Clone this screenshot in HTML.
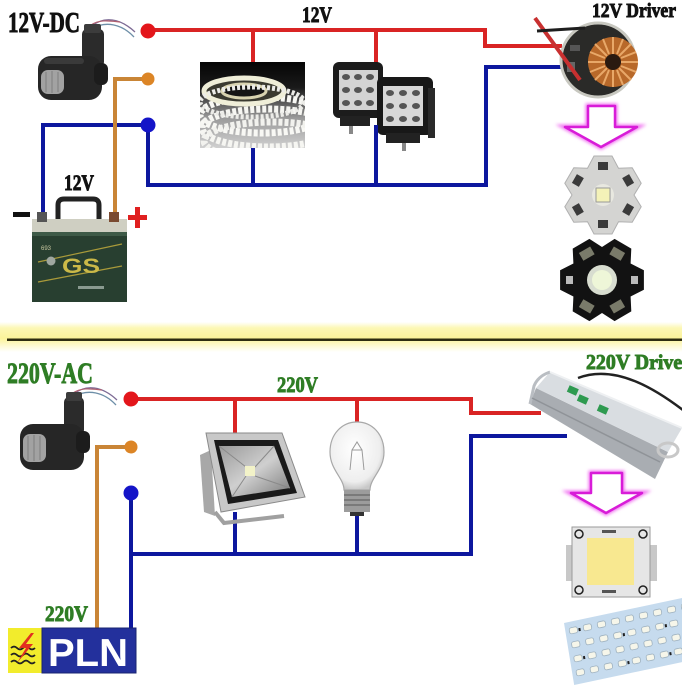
<!DOCTYPE html>
<html><head><meta charset="utf-8"><style>
html,body{margin:0;padding:0;background:#fff;}
svg{display:block;}
.t{font-family:"Liberation Serif",serif;font-weight:bold;stroke-width:0.9;}
.s{font-family:"Liberation Sans",sans-serif;font-weight:bold;}
</style></head><body>
<svg width="688" height="688" viewBox="0 0 688 688" xmlns="http://www.w3.org/2000/svg">
<defs>
 <clipPath id="main"><rect x="0" y="0" width="682" height="688"/></clipPath>
 <clipPath id="stripclip"><rect x="200" y="62" width="105" height="86"/></clipPath>
 <linearGradient id="sep" x1="0" y1="0" x2="0" y2="1">
  <stop offset="0" stop-color="#ffffff"/>
  <stop offset="0.2" stop-color="#fcf7b4"/>
  <stop offset="0.55" stop-color="#fbf39a"/>
  <stop offset="0.75" stop-color="#fdf8c8"/>
  <stop offset="1" stop-color="#ffffff"/>
 </linearGradient>
 <linearGradient id="stripbg" x1="0" y1="0" x2="0" y2="1">
  <stop offset="0" stop-color="#050505"/>
  <stop offset="0.3" stop-color="#1a1a1a"/>
  <stop offset="0.65" stop-color="#9a9a9a"/>
  <stop offset="1" stop-color="#d0d0d0"/>
 </linearGradient>
 <linearGradient id="refl" x1="0" y1="0" x2="1" y2="1">
  <stop offset="0" stop-color="#9a9a9a"/>
  <stop offset="0.5" stop-color="#cfcfcf"/>
  <stop offset="1" stop-color="#7a7a7a"/>
 </linearGradient>
 <radialGradient id="glass" cx="0.45" cy="0.4" r="0.6">
  <stop offset="0" stop-color="#ffffff"/>
  <stop offset="0.8" stop-color="#eeeeee"/>
  <stop offset="1" stop-color="#c8c8c8"/>
 </radialGradient>
 <filter id="blur" x="-20%" y="-20%" width="140%" height="140%"><feGaussianBlur stdDeviation="1.6"/></filter>
</defs>
<rect width="688" height="688" fill="#fff"/>
<g clip-path="url(#main)">

<!-- separator -->
<rect x="0" y="322" width="682" height="30" fill="url(#sep)"/>
<rect x="7" y="338.5" width="675" height="2.5" fill="#2e2c10"/>

<!-- ============ TOP SECTION ============ -->
<text class="t" x="8" y="32" font-size="28" textLength="72" lengthAdjust="spacingAndGlyphs" fill="#111" stroke="#111">12V-DC</text>
<text class="t" x="302" y="22" font-size="22" textLength="30" lengthAdjust="spacingAndGlyphs" fill="#111" stroke="#111">12V</text>
<text class="t" x="64" y="190" font-size="22" textLength="30" lengthAdjust="spacingAndGlyphs" fill="#111" stroke="#111">12V</text>
<text class="t" x="592" y="17" font-size="20" textLength="84" lengthAdjust="spacingAndGlyphs" fill="#111" stroke="#111">12V Driver</text>

<!-- wires top -->
<g fill="none" stroke-width="4" stroke-linejoin="miter">
 <path d="M148 30 H485 V46 H562" stroke="#d92424"/>
 <path d="M253 30 V62 M376 30 V63" stroke="#d92424"/>
 <path d="M148 125 V185 H486 V67 H566" stroke="#0d179e"/>
 <path d="M253 148 V185 M376 125 V185" stroke="#0d179e"/>
 <path d="M148 125 H43 V216" stroke="#0d179e"/>
 <path d="M148 79 H115 V216" stroke="#c98536"/>
</g>
<circle cx="148" cy="31" r="7.5" fill="#e3161b"/>
<circle cx="148" cy="79" r="6.5" fill="#dc8526"/>
<circle cx="148" cy="125" r="7.5" fill="#1414c8"/>

<!-- sensor top -->
<g>
 <path d="M92 26 C104 16, 120 18, 135 32" stroke="#7d6b95" stroke-width="1.3" fill="none"/>
 <path d="M93 28 C106 21, 122 24, 134 37" stroke="#6e8fa8" stroke-width="1.3" fill="none"/>
 <path d="M91 25 C100 19, 110 21, 120 22" stroke="#b06070" stroke-width="1.2" fill="none"/>
 <rect x="82" y="29" width="22" height="38" rx="5" fill="#2b2b2b"/>
 <rect x="84" y="24" width="17" height="9" rx="2" fill="#3c3c3c"/>
 <rect x="38" y="56" width="64" height="44" rx="13" fill="#262626"/>
 <rect x="94" y="63" width="14" height="22" rx="6" fill="#1c1c1c"/>
 <rect x="41" y="70" width="23" height="24" rx="7" fill="#a2a2a2"/>
 <path d="M46 72 V92 M52 71 V93 M58 72 V92" stroke="#8a8a8a" stroke-width="1.5"/>
 <rect x="44" y="58" width="40" height="6" rx="3" fill="#3a3a3a"/>
</g>

<!-- battery -->
<path d="M58 222 V205 Q58 199 64 199 H93 Q99 199 99 205 V222" stroke="#222" stroke-width="5" fill="none"/>
<rect x="32" y="219" width="95" height="14" fill="#cfcfc2"/>
<rect x="37" y="212" width="10" height="10" fill="#555"/>
<rect x="109" y="212" width="10" height="10" fill="#7a4a30"/>
<rect x="32" y="232" width="95" height="70" fill="#283f30"/>
<rect x="32" y="232" width="95" height="4" fill="#3e5a47"/>
<path d="M38 262 L122 244 M38 282 L122 266" stroke="#a99a3a" stroke-width="1.2"/>
<circle cx="51" cy="261" r="4.5" fill="#9fa7a0"/>
<text x="41" y="250" font-family="Liberation Sans" font-size="6" fill="#c8c8a0">693</text>
<text class="s" x="62" y="273" font-size="21" textLength="38" lengthAdjust="spacingAndGlyphs" fill="#cbb948">GS</text>
<rect x="78" y="286" width="26" height="3" fill="#8a9a90"/>
<rect x="13" y="212" width="17" height="5" fill="#111"/>
<rect x="128" y="215" width="19" height="5" fill="#e02020"/>
<rect x="135" y="207" width="5" height="21" fill="#e02020"/>

<!-- LED strip photo -->
<rect x="200" y="62" width="105" height="86" fill="url(#stripbg)"/>
<g clip-path="url(#stripclip)" fill="none">
 <ellipse cx="262" cy="115" rx="62" ry="18" stroke="#f8f8f4" stroke-width="7" stroke-dasharray="4 2"/>
 <ellipse cx="268" cy="128" rx="66" ry="19" stroke="#f6f6f2" stroke-width="7" stroke-dasharray="4 2"/>
 <ellipse cx="272" cy="141" rx="68" ry="19" stroke="#f2f2ee" stroke-width="7" stroke-dasharray="4 2"/>
 <ellipse cx="244" cy="91" rx="40" ry="13" stroke="#efeed8" stroke-width="5" fill="#3a3a30"/>
 <ellipse cx="244" cy="91" rx="22" ry="7" stroke="#d8d3b0" stroke-width="3" fill="#151515"/>
 <ellipse cx="252" cy="102" rx="52" ry="15" stroke="#ececE8" stroke-width="5" stroke-dasharray="3 2"/>
</g>

<!-- work lights -->
<rect x="333" y="62" width="50" height="56" rx="6" fill="#1c1c1c"/>
<rect x="339" y="70" width="39" height="40" fill="#d4d4d4"/>
<g fill="#555">
 <ellipse cx="346" cy="77" rx="4" ry="3"/><ellipse cx="358" cy="77" rx="4" ry="3"/><ellipse cx="370" cy="77" rx="4" ry="3"/>
 <ellipse cx="346" cy="90" rx="4" ry="3"/><ellipse cx="358" cy="90" rx="4" ry="3"/><ellipse cx="370" cy="90" rx="4" ry="3"/>
 <ellipse cx="346" cy="103" rx="4" ry="3"/><ellipse cx="358" cy="103" rx="4" ry="3"/><ellipse cx="370" cy="103" rx="4" ry="3"/>
</g>
<rect x="340" y="116" width="30" height="10" fill="#222"/>
<rect x="349" y="126" width="4" height="8" fill="#888"/>
<rect x="377" y="77" width="56" height="58" rx="6" fill="#181818"/>
<rect x="383" y="86" width="40" height="40" fill="#d8d8d8"/>
<g fill="#555">
 <ellipse cx="390" cy="93" rx="4" ry="3"/><ellipse cx="403" cy="93" rx="4" ry="3"/><ellipse cx="416" cy="93" rx="4" ry="3"/>
 <ellipse cx="390" cy="106" rx="4" ry="3"/><ellipse cx="403" cy="106" rx="4" ry="3"/><ellipse cx="416" cy="106" rx="4" ry="3"/>
 <ellipse cx="390" cy="119" rx="4" ry="3"/><ellipse cx="403" cy="119" rx="4" ry="3"/><ellipse cx="416" cy="119" rx="4" ry="3"/>
</g>
<rect x="386" y="133" width="34" height="10" fill="#222"/>
<rect x="402" y="143" width="4" height="8" fill="#888"/>
<rect x="428" y="88" width="7" height="50" fill="#2a2a2a"/>
<path d="M376 125 V185" stroke="#0d179e" stroke-width="4"/>

<!-- 12V driver -->
<circle cx="598" cy="60" r="37" fill="#2a2a28" stroke="#c8c8c0" stroke-width="3"/>
<circle cx="613" cy="62" r="25" fill="#b8692a"/>
<g stroke="#e8a868" stroke-width="2">
 <path d="M613 37 V54 M613 70 V87 M588 62 H605 M621 62 H638"/>
 <path d="M631 44 L619 56 M595 80 L607 68 M595 44 L607 56 M631 80 L619 68"/>
 <path d="M623 39 L617 54 M603 85 L609 70 M590 52 L605 58 M636 72 L621 66"/>
 <path d="M603 39 L609 54 M623 85 L617 70 M590 72 L605 66 M636 52 L621 58"/>
</g>
<circle cx="613" cy="62" r="8" fill="#2a1a10"/>
<rect x="570" y="45" width="10" height="6" fill="#555"/>
<rect x="567" y="62" width="8" height="10" fill="#666"/>
<path d="M535 18 L580 80" stroke="#c83030" stroke-width="4"/>
<path d="M537 31 L585 28" stroke="#1e1e1e" stroke-width="3"/>

<!-- arrow top -->
<path d="M588 106 H615 V127 H637 L601 147 L565 127 H588 Z" fill="none" stroke="#f070f0" stroke-width="5" filter="url(#blur)"/>
<path d="M588 106 H615 V127 H637 L601 147 L565 127 H588 Z" fill="#fff" stroke="#d81cd8" stroke-width="2.5" stroke-linejoin="round"/>

<!-- white star LED -->
<polygon points="594,156 612,156 618.5,168.2 632.2,167.7 641.2,183.3 634,195 641.2,206.7 632.2,222.3 618.5,221.8 612,234 594,234 587.5,221.8 573.8,222.3 564.8,206.7 572,195 564.8,183.3 573.8,167.7 587.5,168.2" fill="#d4d4d2" stroke="#b0b0b0" stroke-width="1"/>
<g fill="#3a3a3a">
 <rect x="598" y="162" width="10" height="8" transform="rotate(0 603 195)"/>
 <rect x="598" y="162" width="10" height="8" transform="rotate(60 603 195)"/>
 <rect x="598" y="162" width="10" height="8" transform="rotate(120 603 195)"/>
 <rect x="598" y="162" width="10" height="8" transform="rotate(180 603 195)"/>
 <rect x="598" y="162" width="10" height="8" transform="rotate(240 603 195)"/>
 <rect x="598" y="162" width="10" height="8" transform="rotate(300 603 195)"/>
</g>
<circle cx="603" cy="195" r="11" fill="#e8e8e0"/>
<rect x="596" y="188" width="14" height="14" fill="#f4f2b8" stroke="#999" stroke-width="1"/>

<!-- black star LED -->
<polygon points="643.9,270.3 643.9,289.7 630.6,296.5 631.3,311.4 614.6,321.1 602,313 589.4,321.1 572.7,311.4 573.4,296.5 560.1,289.7 560.1,270.3 573.4,263.5 572.7,248.6 589.4,238.9 602,247 614.6,238.9 631.3,248.6 630.6,263.5" fill="#121212"/>
<g fill="#7a7b6a">
 <rect x="595.5" y="245" width="13" height="9" transform="rotate(-30 602 280)"/>
 <rect x="595.5" y="245" width="13" height="9" transform="rotate(30 602 280)"/>
 <rect x="595.5" y="245" width="13" height="9" transform="rotate(150 602 280)"/>
 <rect x="595.5" y="245" width="13" height="9" transform="rotate(210 602 280)"/>
</g>
<rect x="566" y="276" width="7" height="8" fill="#bbb"/>
<rect x="631" y="276" width="7" height="8" fill="#bbb"/>
<circle cx="602" cy="280" r="15" fill="#d8ddd0"/>
<circle cx="602" cy="280" r="10" fill="#eef6d8"/>

<!-- ============ BOTTOM SECTION ============ -->
<text class="t" x="7" y="383" font-size="30" textLength="86" lengthAdjust="spacingAndGlyphs" fill="#2f7d25" stroke="#2f7d25">220V-AC</text>
<text class="t" x="277" y="392" font-size="22" textLength="41" lengthAdjust="spacingAndGlyphs" fill="#2f7d25" stroke="#2f7d25">220V</text>
<text class="t" x="586" y="369" font-size="21" textLength="105" lengthAdjust="spacingAndGlyphs" fill="#2f7d25" stroke="#2f7d25">220V Driver</text>
<text class="t" x="45" y="621" font-size="22" textLength="43" lengthAdjust="spacingAndGlyphs" fill="#2f7d25" stroke="#2f7d25">220V</text>

<!-- wires bottom -->
<g fill="none" stroke-width="4">
 <path d="M131 399 H471 V413 H541" stroke="#d92424"/>
 <path d="M235 399 V433 M357 399 V423" stroke="#d92424"/>
 <path d="M131 493 V630" stroke="#0d179e"/>
 <path d="M131 554 H471 V436 H567" stroke="#0d179e"/>
 <path d="M235 512 V554 M357 514 V554" stroke="#0d179e"/>
 <path d="M131 447 H97 V629" stroke="#c98536"/>
</g>
<circle cx="131" cy="399" r="7.5" fill="#e3161b"/>
<circle cx="131" cy="447" r="6.5" fill="#dc8526"/>
<circle cx="131" cy="493" r="7.5" fill="#1414c8"/>

<!-- sensor bottom -->
<g transform="translate(-18,368)">
 <path d="M92 26 C104 16, 120 18, 135 32" stroke="#7d6b95" stroke-width="1.3" fill="none"/>
 <path d="M93 28 C106 21, 122 24, 134 37" stroke="#6e8fa8" stroke-width="1.3" fill="none"/>
 <path d="M91 25 C100 19, 110 21, 120 22" stroke="#b06070" stroke-width="1.2" fill="none"/>
 <rect x="82" y="29" width="20" height="38" rx="5" fill="#2b2b2b"/>
 <rect x="84" y="24" width="16" height="9" rx="2" fill="#3c3c3c"/>
 <rect x="38" y="56" width="64" height="46" rx="13" fill="#262626"/>
 <rect x="94" y="63" width="14" height="22" rx="6" fill="#1c1c1c"/>
 <rect x="41" y="66" width="23" height="28" rx="7" fill="#a2a2a2"/>
 <path d="M46 68 V92 M52 67 V93 M58 68 V92" stroke="#8a8a8a" stroke-width="1.5"/>
</g>

<!-- floodlight -->
<polygon points="200,455 211,450 215,516 204,512" fill="#a8a8a8"/>
<path d="M215 512 L224 523 L284 516" stroke="#a0a0a0" stroke-width="4" fill="none"/>
<polygon points="206,433 282,433 305,497 221,512" fill="#c8c8c8" stroke="#8a8a8a" stroke-width="1"/>
<polygon points="214,440 278,440 297,493 228,504" fill="#1a1a1a"/>
<polygon points="219,446 274,446 290,488 232,497" fill="url(#refl)"/>
<path d="M219 446 L246 467 M274 446 L255 467 M290 488 L255 476 M232 497 L246 476" stroke="#8a8a8a" stroke-width="1"/>
<rect x="245" y="466" width="10" height="10" fill="#f2f2c8"/>

<!-- bulb -->
<path d="M344 490 C344 478 330 470 330 452 C330 434 342 422 357 422 C372 422 384 434 384 452 C384 470 370 478 370 490 Z" fill="url(#glass)" stroke="#a8a8a8" stroke-width="1.2"/>
<path d="M350 470 L352 450 L362 450 L364 470 M352 450 L357 442 L362 450" stroke="#9a9a9a" stroke-width="1" fill="none"/>
<rect x="344" y="490" width="26" height="22" fill="#9c9c9c"/>
<path d="M344 495 H370 M344 500 H370 M344 505 H370" stroke="#6e6e6e" stroke-width="1.5"/>
<rect x="350" y="512" width="14" height="4" fill="#333"/>

<!-- 220V driver box -->
<path d="M578 378 C615 364, 655 388, 688 414" stroke="#222" stroke-width="2.5" fill="none"/>
<polygon points="536,388 668,452 655,479 530,404" fill="#a9adb2"/>
<polygon points="550,372 682,428 668,452 536,388" fill="#d9dde1"/>
<path d="M550 372 Q538 376 534 386 L530 404" stroke="#b9bdc2" stroke-width="3" fill="none"/>
<path d="M550 372 L682 428" stroke="#eef0f2" stroke-width="2"/>
<path d="M532 398 L660 462" stroke="#8f9398" stroke-width="1.5"/>
<g fill="#2e9a50">
 <rect x="568" y="387" width="10" height="7" transform="rotate(24 573 390)"/>
 <rect x="578" y="396" width="10" height="7" transform="rotate(24 583 399)"/>
 <rect x="598" y="406" width="10" height="7" transform="rotate(24 603 409)"/>
</g>
<ellipse cx="668" cy="450" rx="10" ry="7" fill="none" stroke="#c8c8c8" stroke-width="3"/>

<!-- arrow bottom -->
<path d="M591 473 H622 V493 H642 L606 513 L571 493 H591 Z" fill="none" stroke="#f070f0" stroke-width="5" filter="url(#blur)"/>
<path d="M591 473 H622 V493 H642 L606 513 L571 493 H591 Z" fill="#fff" stroke="#d81cd8" stroke-width="2.5" stroke-linejoin="round"/>

<!-- COB LED -->
<rect x="566" y="545" width="8" height="36" fill="#c8c8c8"/>
<rect x="649" y="545" width="8" height="36" fill="#c8c8c8"/>
<rect x="572" y="527" width="78" height="70" fill="#e6e6e6" stroke="#9a9a9a" stroke-width="1"/>
<circle cx="579" cy="534" r="4" fill="none" stroke="#222" stroke-width="1.5"/>
<circle cx="643" cy="534" r="4" fill="none" stroke="#222" stroke-width="1.5"/>
<circle cx="579" cy="590" r="4" fill="none" stroke="#222" stroke-width="1.5"/>
<circle cx="643" cy="590" r="4" fill="none" stroke="#222" stroke-width="1.5"/>
<rect x="602" y="530" width="14" height="3" fill="#555"/>
<rect x="602" y="590" width="14" height="3" fill="#555"/>
<rect x="587" y="538" width="47" height="47" fill="#f8e890"/>

<!-- LED strip board -->
<g transform="matrix(1,-0.212,0.164,1,564,623)">
 <rect x="0" y="0" width="130" height="62" fill="#c6dbee"/>
 <g fill="#f6f6ea" stroke="#9fb2c0" stroke-width="0.8">
  <rect x="4" y="6" width="8" height="6" rx="2"/><rect x="18" y="6" width="8" height="6" rx="2"/><rect x="32" y="6" width="8" height="6" rx="2"/><rect x="46" y="6" width="8" height="6" rx="2"/><rect x="60" y="6" width="8" height="6" rx="2"/><rect x="74" y="6" width="8" height="6" rx="2"/><rect x="88" y="6" width="8" height="6" rx="2"/><rect x="102" y="6" width="8" height="6" rx="2"/><rect x="116" y="6" width="8" height="6" rx="2"/>
  <rect x="4" y="20" width="8" height="6" rx="2"/><rect x="18" y="20" width="8" height="6" rx="2"/><rect x="32" y="20" width="8" height="6" rx="2"/><rect x="46" y="20" width="8" height="6" rx="2"/><rect x="60" y="20" width="8" height="6" rx="2"/><rect x="74" y="20" width="8" height="6" rx="2"/><rect x="88" y="20" width="8" height="6" rx="2"/><rect x="102" y="20" width="8" height="6" rx="2"/><rect x="116" y="20" width="8" height="6" rx="2"/>
  <rect x="4" y="34" width="8" height="6" rx="2"/><rect x="18" y="34" width="8" height="6" rx="2"/><rect x="32" y="34" width="8" height="6" rx="2"/><rect x="46" y="34" width="8" height="6" rx="2"/><rect x="60" y="34" width="8" height="6" rx="2"/><rect x="74" y="34" width="8" height="6" rx="2"/><rect x="88" y="34" width="8" height="6" rx="2"/><rect x="102" y="34" width="8" height="6" rx="2"/><rect x="116" y="34" width="8" height="6" rx="2"/>
  <rect x="4" y="48" width="8" height="6" rx="2"/><rect x="18" y="48" width="8" height="6" rx="2"/><rect x="32" y="48" width="8" height="6" rx="2"/><rect x="46" y="48" width="8" height="6" rx="2"/><rect x="60" y="48" width="8" height="6" rx="2"/><rect x="74" y="48" width="8" height="6" rx="2"/><rect x="88" y="48" width="8" height="6" rx="2"/><rect x="102" y="48" width="8" height="6" rx="2"/><rect x="116" y="48" width="8" height="6" rx="2"/>
 </g>
 <g fill="#222">
  <rect x="13" y="8" width="2" height="3"/><rect x="55" y="22" width="2" height="3"/><rect x="13" y="36" width="2" height="3"/><rect x="97" y="22" width="2" height="3"/><rect x="55" y="50" width="2" height="3"/><rect x="97" y="50" width="2" height="3"/>
 </g>
</g>

<!-- PLN -->
<rect x="8" y="628" width="34" height="45" fill="#f2ec2c"/>
<path d="M11 648 q3 -3 6 0 t6 0 t6 0 t6 0 M11 655 q3 -3 6 0 t6 0 t6 0 t6 0 M11 662 q3 -3 6 0 t6 0 t6 0 t6 0" stroke="#222" stroke-width="1.8" fill="none"/>
<polygon points="31,633 19,648 26,648 17,663 33,644 26,644 34,633" fill="#e23020"/>
<rect x="42" y="628" width="94" height="45" fill="#23309c" stroke="#1a2470" stroke-width="1"/>
<text class="s" x="48" y="666" font-size="39" textLength="80" lengthAdjust="spacingAndGlyphs" fill="#fff">PLN</text>
</g>
</svg>
</body></html>
